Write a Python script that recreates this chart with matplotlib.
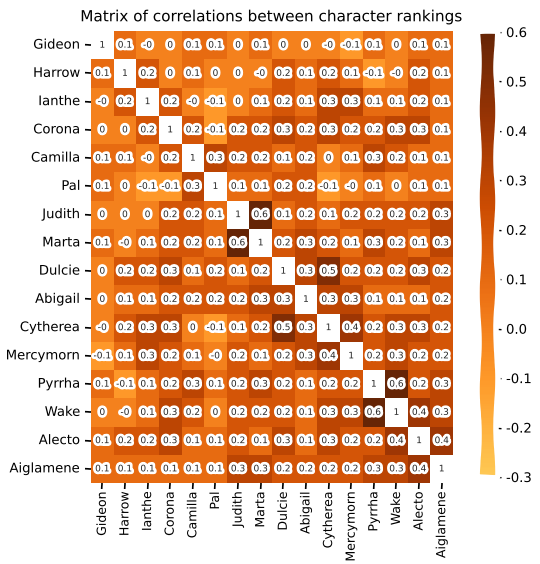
import numpy as np
import matplotlib
matplotlib.use("Agg")
import matplotlib.pyplot as plt
from matplotlib.colors import ListedColormap
import seaborn as sns

names = ["Gideon", "Harrow", "Ianthe", "Corona", "Camilla", "Pal", "Judith", "Marta",
         "Dulcie", "Abigail", "Cytherea", "Mercymorn", "Pyrrha", "Wake", "Alecto", "Aiglamene"]

# rounded correlations (-0.0 kept so it prints as "-0")
gideon    = [1, 0.1, -0.0, 0, 0.1, 0.1, 0, 0.1, 0, 0, -0.0, -0.1, 0.1, 0, 0.1, 0.1]
harrow    = [0.1, 1, 0.2, 0, 0.1, 0, 0, -0.0, 0.2, 0.1, 0.2, 0.1, -0.1, -0.0, 0.2, 0.1]
ianthe    = [-0.0, 0.2, 1, 0.2, -0.0, -0.1, 0, 0.1, 0.2, 0.1, 0.3, 0.3, 0.1, 0.1, 0.2, 0.1]
corona    = [0, 0, 0.2, 1, 0.2, -0.1, 0.2, 0.2, 0.3, 0.2, 0.3, 0.2, 0.2, 0.3, 0.3, 0.1]
camilla   = [0.1, 0.1, -0.0, 0.2, 1, 0.3, 0.2, 0.2, 0.1, 0.2, 0, 0.1, 0.3, 0.2, 0.1, 0.1]
pal       = [0.1, 0, -0.1, -0.1, 0.3, 1, 0.1, 0.1, 0.2, 0.2, -0.1, -0.0, 0.1, 0, 0.1, 0.1]
judith    = [0, 0, 0, 0.2, 0.2, 0.1, 1, 0.6, 0.1, 0.2, 0.1, 0.2, 0.2, 0.2, 0.2, 0.3]
marta     = [0.1, -0.0, 0.1, 0.2, 0.2, 0.1, 0.6, 1, 0.2, 0.3, 0.2, 0.1, 0.3, 0.2, 0.1, 0.3]
dulcie    = [0, 0.2, 0.2, 0.3, 0.1, 0.2, 0.1, 0.2, 1, 0.3, 0.5, 0.2, 0.2, 0.2, 0.3, 0.2]
abigail   = [0, 0.1, 0.1, 0.2, 0.2, 0.2, 0.2, 0.3, 0.3, 1, 0.3, 0.3, 0.1, 0.1, 0.1, 0.2]
cytherea  = [-0.0, 0.2, 0.3, 0.3, 0, -0.1, 0.1, 0.2, 0.5, 0.3, 1, 0.4, 0.2, 0.3, 0.3, 0.2]
mercymorn = [-0.1, 0.1, 0.3, 0.2, 0.1, -0.0, 0.2, 0.1, 0.2, 0.3, 0.4, 1, 0.2, 0.3, 0.2, 0.2]
pyrrha    = [0.1, -0.1, 0.1, 0.2, 0.3, 0.1, 0.2, 0.3, 0.2, 0.1, 0.2, 0.2, 1, 0.6, 0.2, 0.3]
wake      = [0, -0.0, 0.1, 0.3, 0.2, 0, 0.2, 0.2, 0.2, 0.1, 0.3, 0.3, 0.6, 1, 0.4, 0.3]
alecto    = [0.1, 0.2, 0.2, 0.3, 0.1, 0.1, 0.2, 0.1, 0.3, 0.1, 0.3, 0.2, 0.2, 0.4, 1, 0.4]
aiglamene = [0.1, 0.1, 0.1, 0.1, 0.1, 0.1, 0.3, 0.3, 0.2, 0.2, 0.2, 0.2, 0.3, 0.3, 0.4, 1]

corr = np.array([gideon, harrow, ianthe, corona, camilla, pal, judith, marta,
                 dulcie, abigail, cytherea, mercymorn, pyrrha, wake, alecto, aiglamene])

plt.xkcd()
plt.rcParams['font.family'] = ['DejaVu Sans']

# upper part of YlOrBr, diagonal (above vmax) shown white
base = plt.get_cmap("YlOrBr")
cmap = ListedColormap(base(np.linspace(0.36, 1.0, 256)))
cmap.set_over("white")

fig = plt.figure(figsize=(5.4, 5.64), dpi=100)
ax = fig.add_axes([91/540, 1 - 483/564, 362/540, 452/564])
cax = fig.add_axes([478/540, 1 - 477/564, 19/540, 445/564])

sns.heatmap(corr, ax=ax, cbar_ax=cax, cmap=cmap, vmin=-0.3, vmax=0.6,
            annot=True, annot_kws={"fontsize": 6.5, "color": "#262626"},
            xticklabels=names, yticklabels=names)

ax.set_title("Matrix of correlations between character rankings", fontsize=11, pad=7)
ax.tick_params(axis="x", labelsize=9, rotation=90, length=4, width=1.2, pad=2)
ax.tick_params(axis="y", labelsize=9.5, rotation=0, length=4, width=1.2)
cax.tick_params(labelsize=9.5, length=3, width=1)

fig.savefig("out.png", dpi=100)
